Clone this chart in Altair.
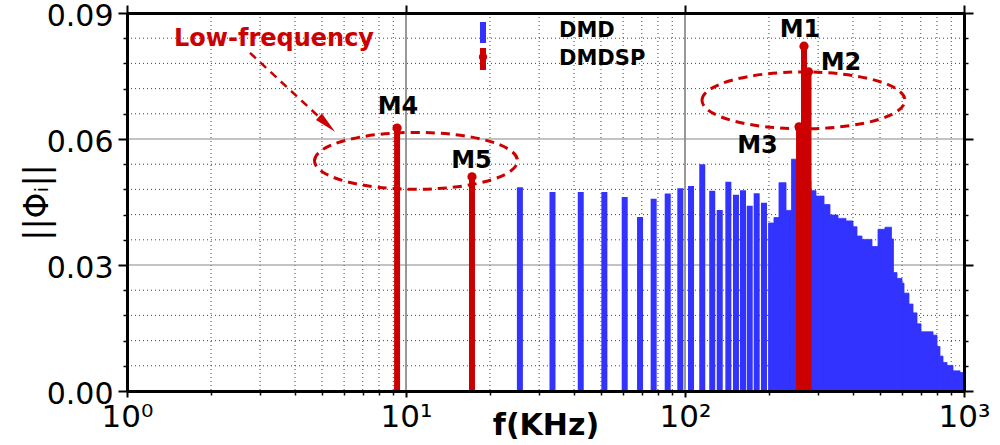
import altair as alt
import pandas as pd

BLUE = "#3333FF"
RED = "#CC0000"
FONT = "DejaVu Sans"

# ---------------- data ----------------
# DMD: isolated bars (frequency in kHz, amplitude)
dmd_freq = [25.6, 33.5, 42.3, 51.4, 60.8, 69.0, 77.2, 86.7, 96.2, 105.1,
            115.3, 125.2, 133.2, 143.0, 152.3, 161.4, 170.6, 180.7, 191.9]
dmd_amp = [0.0485, 0.0474, 0.0474, 0.0474, 0.0462, 0.0414, 0.0458, 0.0470, 0.0483, 0.0488,
           0.0540, 0.0477, 0.0431, 0.0498, 0.0467, 0.0478, 0.0441, 0.0471, 0.0448]

# DMD: dense band (step start / end frequency, amplitude)
band_f0 = [199.2, 208.4, 217.2, 230.2, 240.8, 252.0, 282.8, 294.8, 315.0, 330.9,
           353.5, 377.6, 400.1, 413.5, 430.9, 468.0, 491.8, 521.0, 549.7, 558.8,
           575.2, 599.5, 609.5, 635.1, 656.5, 678.5, 701.2, 774.3, 800.3, 820.3,
           840.9, 869.1, 913.2, 967.5]
band_f1 = [208.4, 217.2, 230.2, 240.8, 252.0, 282.8, 294.8, 315.0, 330.9, 353.5,
           377.6, 400.1, 413.5, 430.9, 468.0, 491.8, 521.0, 549.7, 558.8, 575.2,
           599.5, 609.5, 635.1, 656.5, 678.5, 701.2, 774.3, 800.3, 820.3, 840.9,
           869.1, 913.2, 967.5, 996.0]
band_amp = [0.0400, 0.0413, 0.0496, 0.0430, 0.0552, 0.0500, 0.0477, 0.0464, 0.0444, 0.0419,
            0.0411, 0.0405, 0.0391, 0.0369, 0.0361, 0.0344, 0.0385, 0.0390, 0.0362, 0.0282,
            0.0268, 0.0257, 0.0233, 0.0207, 0.0186, 0.0160, 0.0141, 0.0133, 0.0106, 0.0083,
            0.0068, 0.0061, 0.0048, 0.0044]

# DMDSP modes
sp_freq = [9.29, 17.24, 256.3, 267.0, 277.1]
sp_amp = [0.0626, 0.0510, 0.0629, 0.0821, 0.0760]

# mode labels
lab_text = ["M1", "M2", "M3", "M4", "M5"]
lab_freq = [258.3, 362.4, 181.9, 9.36, 17.17]
lab_amp = [0.0843, 0.0764, 0.0567, 0.0660, 0.0531]

# axis ticks
x_major = [1, 10, 100, 1000]
x_major_labels = ["10\u2070", "10\u00b9", "10\u00b2", "10\u00b3"]
x_minor = [2, 3, 4, 5, 6, 7, 8, 9, 20, 30, 40, 50, 60, 70, 80, 90,
           200, 300, 400, 500, 600, 700, 800, 900]
y_major = [0.0, 0.03, 0.06, 0.09]
y_minor = [0.006, 0.012, 0.018, 0.024, 0.036, 0.042, 0.048, 0.054,
           0.066, 0.072, 0.078, 0.084]

# annotations (data coordinates)
ellipse_freq = [10.86, 265.9]
ellipse_amp = [0.0548, 0.0692]
arrow_start = (2.76, 0.0805)
arrow_end = (5.21, 0.0635)
low_label = ("Low-frequency", 3.365, 0.0821)

# ---------------- chart ----------------
xs = alt.Scale(type="log", domain=[1, 1000], nice=False)
ys = alt.Scale(domain=[0, 0.09], nice=False, zero=False)

label_expr = " : ".join(
    f"datum.value == {v} ? '{t}'" for v, t in zip(x_major, x_major_labels)
) + " : ''"

df_vminor = pd.DataFrame({"f": x_minor})
df_vmajor = pd.DataFrame({"f": x_major})
df_hminor = pd.DataFrame({"a": y_minor})
df_hmajor = pd.DataFrame({"a": y_major})

vminor = alt.Chart(df_vminor).mark_rule(color="#444444", strokeWidth=1, strokeDash=[1, 3]).encode(
    x=alt.X("f:Q", scale=xs, axis=alt.Axis(orient="bottom", values=x_minor, labels=False,
                                           tickSize=4, tickWidth=1.5, tickColor="black",
                                           domain=False, grid=False, title=None, zindex=1))
)
vmajor = alt.Chart(df_vmajor).mark_rule(color="#333333", strokeWidth=1).encode(
    x=alt.X("f:Q", scale=xs, axis=alt.Axis(orient="top", values=x_major, labels=False,
                                           tickSize=8, tickWidth=2, tickColor="black",
                                           domainWidth=3, domainColor="black",
                                           grid=False, title=None, zindex=1))
)
hminor = alt.Chart(df_hminor).mark_rule(color="#444444", strokeWidth=1, strokeDash=[1, 3]).encode(
    y=alt.Y("a:Q", scale=ys, axis=alt.Axis(orient="left", values=y_minor, labels=False,
                                           tickSize=4, tickWidth=1.5, tickColor="black",
                                           domain=False, grid=False, title=None, zindex=1))
)
hmajor = alt.Chart(df_hmajor).mark_rule(color="#888888", strokeWidth=1.2).encode(
    y=alt.Y("a:Q", scale=ys, axis=alt.Axis(orient="right", values=y_major, labels=False,
                                           tickSize=9, tickWidth=2, tickColor="black",
                                           domainWidth=3, domainColor="black",
                                           grid=False, title=None, zindex=1))
)
hminor_r = alt.Chart(df_hminor).mark_rule(opacity=0).encode(
    y=alt.Y("a:Q", scale=ys, axis=alt.Axis(orient="right", values=y_minor, labels=False,
                                           tickSize=4, tickWidth=1.5, tickColor="black",
                                           domain=False, grid=False, title=None, zindex=1))
)

df_band = pd.DataFrame({"f0": band_f0, "f1": band_f1, "a": band_amp, "z": 0.0})
band = alt.Chart(df_band).mark_rect(color=BLUE, stroke=BLUE, strokeWidth=0.8).encode(
    x=alt.X("f0:Q", scale=xs, axis=None),
    x2="f1:Q",
    y=alt.Y("a:Q", scale=ys, axis=None),
    y2="z:Q",
)

df_dmd = pd.DataFrame({"f": dmd_freq, "a": dmd_amp, "z": 0.0})
blue = alt.Chart(df_dmd).mark_rule(color=BLUE, strokeWidth=6).encode(
    x=alt.X("f:Q", scale=xs, axis=alt.Axis(
        orient="bottom", values=x_major, labelExpr=label_expr, grid=False,
        tickSize=6, tickWidth=2, tickColor="black", domainWidth=3, domainColor="black",
        labelFont=FONT, labelFontSize=31, labelColor="black", labelPadding=5,
        labelFlush=False, labelOverlap=False,
        title="f(KHz)", titleFont=FONT, titleFontSize=30, titleFontWeight="bold",
        titleColor="black", titleBaseline="top", titleY=19, zindex=1)),
    y=alt.Y("a:Q", scale=ys, axis=alt.Axis(
        orient="left", values=y_major, format=".2f", grid=False,
        tickSize=9, tickWidth=2, tickColor="black", domainWidth=3, domainColor="black",
        labelFont=FONT, labelFontSize=30, labelColor="black", labelPadding=5,
        labelOffset=3, labelFlush=False, labelOverlap=False,
        title="||\u03a6\u1d62||", titleFont=FONT, titleFontSize=33, titleFontWeight="normal",
        titleColor="black", titleAngle=270, titleX=-80, titleY=189,
        titleAlign="center", titleBaseline="alphabetic", zindex=1)),
    y2="z:Q",
)

df_sp = pd.DataFrame({"f": sp_freq, "a": sp_amp, "z": 0.0})
red_rules = alt.Chart(df_sp).mark_rule(color=RED, strokeWidth=6).encode(
    x=alt.X("f:Q", scale=xs, axis=None),
    y=alt.Y("a:Q", scale=ys, axis=None),
    y2="z:Q",
)
red_dots = alt.Chart(df_sp).mark_circle(color=RED, size=85, opacity=1).encode(
    x=alt.X("f:Q", scale=xs, axis=None),
    y=alt.Y("a:Q", scale=ys, axis=None),
)

ELLIPSE = "M-1,0A1,0.28,0,0,1,1,0A1,0.28,0,0,1,-1,0Z"
df_ell = pd.DataFrame({"f": ellipse_freq, "a": ellipse_amp})
ellipses = alt.Chart(df_ell).mark_point(
    shape=ELLIPSE, size=41209, filled=False, color=RED, stroke=RED,
    strokeWidth=3, strokeDash=[9, 6], opacity=1,
).encode(
    x=alt.X("f:Q", scale=xs, axis=None),
    y=alt.Y("a:Q", scale=ys, axis=None),
)

df_arrow = pd.DataFrame({"f0": [arrow_start[0]], "a0": [arrow_start[1]],
                         "f1": [arrow_end[0]], "a1": [arrow_end[1]]})
arrow = alt.Chart(df_arrow).mark_rule(color=RED, strokeWidth=2.5, strokeDash=[8, 6]).encode(
    x=alt.X("f0:Q", scale=xs, axis=None), x2="f1:Q",
    y=alt.Y("a0:Q", scale=ys, axis=None), y2="a1:Q",
)
ARROWHEAD = "M0,-1L0.4,1L-0.4,1Z"
arrowhead = alt.Chart(df_arrow).mark_point(
    shape=ARROWHEAD, size=484, filled=True, color=RED, angle=133, opacity=1
).encode(
    x=alt.X("f1:Q", scale=xs, axis=None),
    y=alt.Y("a1:Q", scale=ys, axis=None),
)

df_lab = pd.DataFrame({"t": lab_text, "f": lab_freq, "a": lab_amp})
labels = alt.Chart(df_lab).mark_text(
    font=FONT, fontSize=24, fontWeight="bold", color="black",
    align="center", baseline="alphabetic",
).encode(
    x=alt.X("f:Q", scale=xs, axis=None),
    y=alt.Y("a:Q", scale=ys, axis=None),
    text="t:N",
)

df_low = pd.DataFrame({"t": [low_label[0]], "f": [low_label[1]], "a": [low_label[2]]})
low = alt.Chart(df_low).mark_text(
    font=FONT, fontSize=24, fontWeight="bold", color=RED,
    align="center", baseline="alphabetic",
).encode(
    x=alt.X("f:Q", scale=xs, axis=None),
    y=alt.Y("a:Q", scale=ys, axis=None),
    text="t:N",
)

# legend (drawn by hand, in pixel positions of the plot area)
one = pd.DataFrame({"k": [0]})
leg_blue = alt.Chart(one).mark_rule(color=BLUE, strokeWidth=6).encode(
    x=alt.value(356), y=alt.value(9), y2=alt.value(30))
leg_red = alt.Chart(one).mark_rule(color=RED, strokeWidth=6).encode(
    x=alt.value(356), y=alt.value(35), y2=alt.value(57))
leg_red_dot = alt.Chart(one).mark_circle(color=RED, size=70, opacity=1).encode(
    x=alt.value(356), y=alt.value(44))
leg_t1 = alt.Chart(one).mark_text(text="DMD", font=FONT, fontSize=21, fontWeight="bold",
                                  color="black", align="left", baseline="middle").encode(
    x=alt.value(432), y=alt.value(18))
leg_t2 = alt.Chart(one).mark_text(text="DMDSP", font=FONT, fontSize=21, fontWeight="bold",
                                  color="black", align="left", baseline="middle").encode(
    x=alt.value(432), y=alt.value(46))

chart = alt.layer(
    vminor, vmajor, hminor, hmajor, hminor_r,
    band, blue, red_rules, red_dots,
    ellipses, arrow, arrowhead, labels, low,
    leg_blue, leg_red, leg_red_dot, leg_t1, leg_t2,
).resolve_axis(
    x="independent", y="independent"
).properties(
    width=837, height=378,
    padding={"left": 127, "top": 13, "right": 36, "bottom": 54},
    autosize=alt.AutoSizeParams(type="none"),
    background="white",
).configure_view(stroke="transparent")

chart.save("out.html", embed_options={"renderer": "svg", "actions": False})
